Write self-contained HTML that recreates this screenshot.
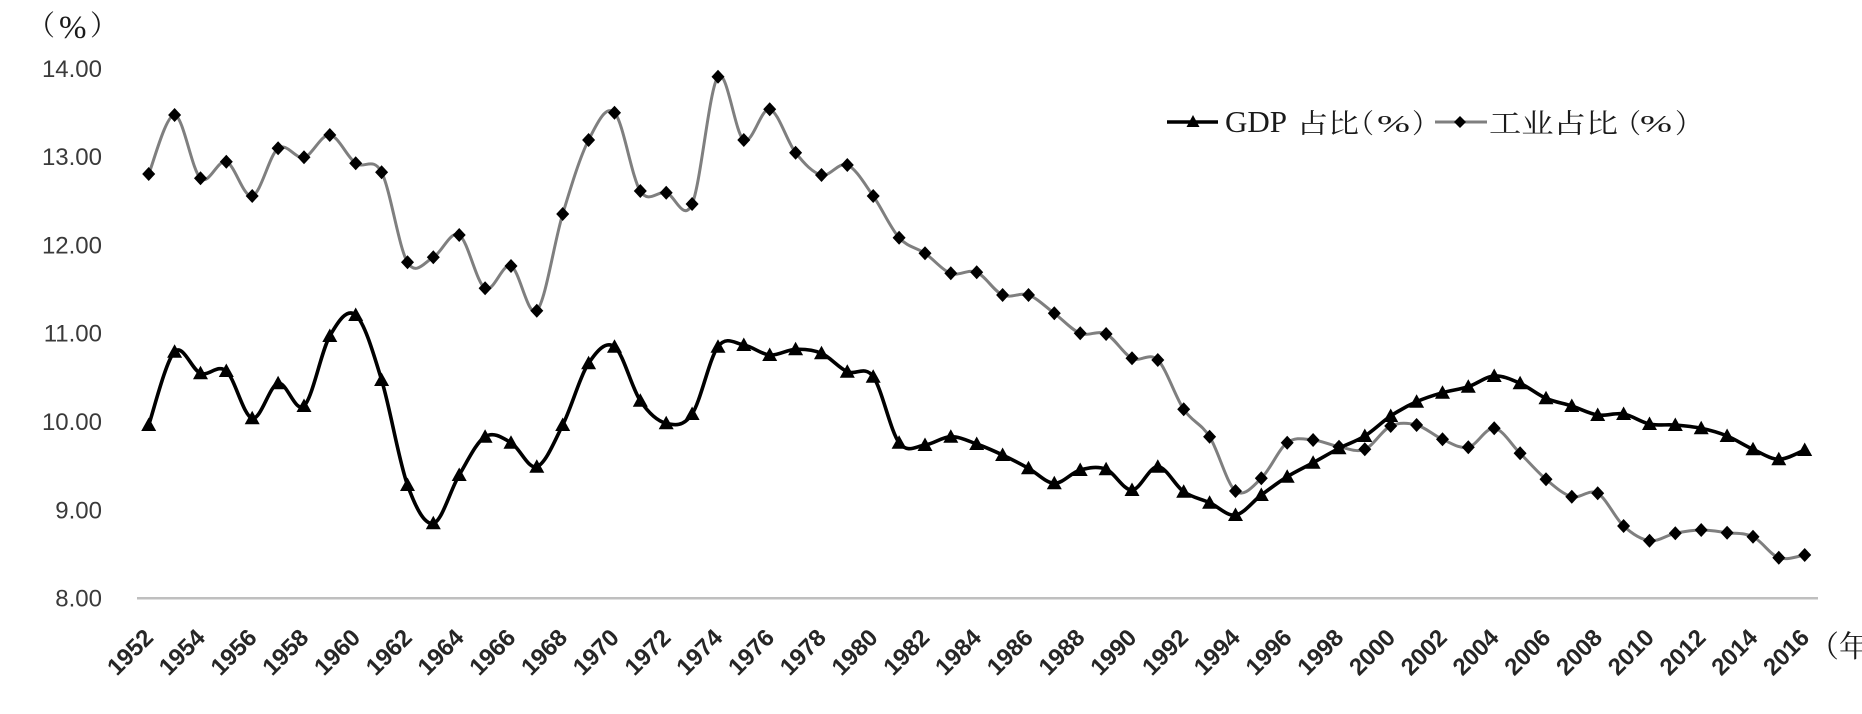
<!DOCTYPE html>
<html>
<head>
<meta charset="utf-8">
<style>
  html, body { margin: 0; padding: 0; background: #ffffff; }
  svg { display: block; }
  .yl { font-family: "Liberation Sans", sans-serif; font-size: 24px; fill: #3a3a3a; text-anchor: end; }
  .xl { font-family: "Liberation Sans", sans-serif; font-size: 24px; font-weight: bold; fill: #262626; text-anchor: end; }
  .cjk { font-family: "Liberation Serif", "Noto Serif CJK SC", serif; fill: #1a1a1a; }
  .lat { font-family: "Liberation Serif", serif; fill: #1a1a1a; }
</style>
</head>
<body>
<svg id="chart" width="1862" height="714" viewBox="0 0 1862 714" xmlns="http://www.w3.org/2000/svg">
  <defs>
    <marker id="tri" markerUnits="userSpaceOnUse" markerWidth="20" markerHeight="20" refX="10" refY="10" orient="0" viewBox="0 0 20 20" overflow="visible">
      <path d="M10,2.5 L17.5,16 L2.5,16 Z" fill="#000"/>
    </marker>
    <marker id="dia" markerUnits="userSpaceOnUse" markerWidth="20" markerHeight="20" refX="10" refY="10" orient="0" viewBox="0 0 20 20" overflow="visible">
      <path d="M10,3 L16.5,10 L10,17 L3.5,10 Z" fill="#000"/>
    </marker>
  </defs>

  <rect x="0" y="0" width="1862" height="714" fill="#ffffff"/>

  <!-- Y axis title -->
  <text class="cjk" x="27" y="35" font-size="28">（</text>
  <text class="lat" x="59" y="38" font-size="33">%</text>
  <text class="cjk" x="90" y="35" font-size="28">）</text>

  <!-- Y tick labels -->
  <text class="yl" x="102" y="76.8">14.00</text>
  <text class="yl" x="102" y="165.1">13.00</text>
  <text class="yl" x="102" y="253.4">12.00</text>
  <text class="yl" x="102" y="341.7">11.00</text>
  <text class="yl" x="102" y="430.0">10.00</text>
  <text class="yl" x="102" y="518.3">9.00</text>
  <text class="yl" x="102" y="606.6">8.00</text>

  <!-- X axis line -->
  <line x1="137" y1="598.3" x2="1818" y2="598.3" stroke="#bfbfbf" stroke-width="2.5"/>

  <!-- X tick labels -->
  <text class="xl" transform="translate(154.7,639) rotate(-45)">1952</text>
  <text class="xl" transform="translate(206.5,639) rotate(-45)">1954</text>
  <text class="xl" transform="translate(258.2,639) rotate(-45)">1956</text>
  <text class="xl" transform="translate(310.0,639) rotate(-45)">1958</text>
  <text class="xl" transform="translate(361.7,639) rotate(-45)">1960</text>
  <text class="xl" transform="translate(413.5,639) rotate(-45)">1962</text>
  <text class="xl" transform="translate(465.2,639) rotate(-45)">1964</text>
  <text class="xl" transform="translate(517.0,639) rotate(-45)">1966</text>
  <text class="xl" transform="translate(568.7,639) rotate(-45)">1968</text>
  <text class="xl" transform="translate(620.5,639) rotate(-45)">1970</text>
  <text class="xl" transform="translate(672.2,639) rotate(-45)">1972</text>
  <text class="xl" transform="translate(724.0,639) rotate(-45)">1974</text>
  <text class="xl" transform="translate(775.7,639) rotate(-45)">1976</text>
  <text class="xl" transform="translate(827.5,639) rotate(-45)">1978</text>
  <text class="xl" transform="translate(879.2,639) rotate(-45)">1980</text>
  <text class="xl" transform="translate(931.0,639) rotate(-45)">1982</text>
  <text class="xl" transform="translate(982.7,639) rotate(-45)">1984</text>
  <text class="xl" transform="translate(1034.5,639) rotate(-45)">1986</text>
  <text class="xl" transform="translate(1086.2,639) rotate(-45)">1988</text>
  <text class="xl" transform="translate(1138.0,639) rotate(-45)">1990</text>
  <text class="xl" transform="translate(1189.7,639) rotate(-45)">1992</text>
  <text class="xl" transform="translate(1241.5,639) rotate(-45)">1994</text>
  <text class="xl" transform="translate(1293.2,639) rotate(-45)">1996</text>
  <text class="xl" transform="translate(1345.0,639) rotate(-45)">1998</text>
  <text class="xl" transform="translate(1396.7,639) rotate(-45)">2000</text>
  <text class="xl" transform="translate(1448.5,639) rotate(-45)">2002</text>
  <text class="xl" transform="translate(1500.2,639) rotate(-45)">2004</text>
  <text class="xl" transform="translate(1552.0,639) rotate(-45)">2006</text>
  <text class="xl" transform="translate(1603.7,639) rotate(-45)">2008</text>
  <text class="xl" transform="translate(1655.5,639) rotate(-45)">2010</text>
  <text class="xl" transform="translate(1707.2,639) rotate(-45)">2012</text>
  <text class="xl" transform="translate(1759.0,639) rotate(-45)">2014</text>
  <text class="xl" transform="translate(1810.7,639) rotate(-45)">2016</text>

  <!-- X axis unit -->
  <text class="cjk" x="1809" y="657" font-size="30">（年）</text>

  <!-- GDP series -->
  <polyline id="gdpLine" fill="none" stroke="#000" stroke-width="3.6" stroke-linejoin="round" stroke-linecap="round"
    points="148.7,425 174.6,351.7 200.5,373.3 226.3,371 252.2,418.3 278.1,383.3 304,406 329.8,336 355.7,315 381.6,380 407.5,485 433.3,523.3 459.2,475 485.1,436.7 511,442.7 536.8,466.7 562.7,425 588.6,363.3 614.5,346.7 640.3,400.7 666.2,423.3 692.1,414 718,346.7 743.8,345 769.7,355 795.6,349.3 821.5,353.3 847.3,371.7 873.2,376.7 899.1,442.7 925,445 950.8,436.7 976.7,444 1002.6,455 1028.5,468.3 1054.3,483.3 1080.2,470 1106.1,469.3 1132,490 1157.8,466.7 1183.7,491.7 1209.6,502.7 1235.5,515 1261.3,495 1287.2,476.7 1313.1,462.7 1339,448.3 1364.8,436 1390.7,416 1416.6,401.7 1442.5,392.7 1468.3,386.7 1494.2,376 1520.1,383.3 1546,398.3 1571.8,406 1597.7,415 1623.6,414 1649.5,424 1675.3,425 1701.2,428.3 1727.1,436 1753,449.3 1778.8,459.3 1804.7,450"/>
  <polyline id="gdpMk" fill="none" stroke="none" marker-start="url(#tri)" marker-mid="url(#tri)" marker-end="url(#tri)"
    points="148.7,425 174.6,351.7 200.5,373.3 226.3,371 252.2,418.3 278.1,383.3 304,406 329.8,336 355.7,315 381.6,380 407.5,485 433.3,523.3 459.2,475 485.1,436.7 511,442.7 536.8,466.7 562.7,425 588.6,363.3 614.5,346.7 640.3,400.7 666.2,423.3 692.1,414 718,346.7 743.8,345 769.7,355 795.6,349.3 821.5,353.3 847.3,371.7 873.2,376.7 899.1,442.7 925,445 950.8,436.7 976.7,444 1002.6,455 1028.5,468.3 1054.3,483.3 1080.2,470 1106.1,469.3 1132,490 1157.8,466.7 1183.7,491.7 1209.6,502.7 1235.5,515 1261.3,495 1287.2,476.7 1313.1,462.7 1339,448.3 1364.8,436 1390.7,416 1416.6,401.7 1442.5,392.7 1468.3,386.7 1494.2,376 1520.1,383.3 1546,398.3 1571.8,406 1597.7,415 1623.6,414 1649.5,424 1675.3,425 1701.2,428.3 1727.1,436 1753,449.3 1778.8,459.3 1804.7,450"/>

  <!-- Industry series -->
  <polyline id="indLine" fill="none" stroke="#7f7f7f" stroke-width="3" stroke-linejoin="round" stroke-linecap="round"
    points="148.7,174 174.6,115 200.5,178.3 226.3,161.7 252.2,196 278.1,148.3 304,157.3 329.8,135 355.7,163.3 381.6,172.3 407.5,262.3 433.3,257.3 459.2,235 485.1,288.3 511,266 536.8,310.7 562.7,214 588.6,140 614.5,112.7 640.3,191 666.2,192.7 692.1,204 718,76.7 743.8,140 769.7,109.3 795.6,152.7 821.5,175 847.3,165 873.2,196 899.1,237.7 925,253.3 950.8,273.3 976.7,272.3 1002.6,295 1028.5,295 1054.3,313.3 1080.2,333.3 1106.1,334 1132,358.3 1157.8,360 1183.7,409.3 1209.6,436.7 1235.5,491 1261.3,478.3 1287.2,442.7 1313.1,440 1339,446.7 1364.8,449.3 1390.7,426 1416.6,425 1442.5,439.3 1468.3,447.3 1494.2,428.3 1520.1,453.3 1546,479.3 1571.8,496.7 1597.7,493.3 1623.6,526 1649.5,540.7 1675.3,533.3 1701.2,530 1727.1,532.7 1753,536.7 1778.8,557.7 1804.7,555"/>
  <polyline id="indMk" fill="none" stroke="none" marker-start="url(#dia)" marker-mid="url(#dia)" marker-end="url(#dia)"
    points="148.7,174 174.6,115 200.5,178.3 226.3,161.7 252.2,196 278.1,148.3 304,157.3 329.8,135 355.7,163.3 381.6,172.3 407.5,262.3 433.3,257.3 459.2,235 485.1,288.3 511,266 536.8,310.7 562.7,214 588.6,140 614.5,112.7 640.3,191 666.2,192.7 692.1,204 718,76.7 743.8,140 769.7,109.3 795.6,152.7 821.5,175 847.3,165 873.2,196 899.1,237.7 925,253.3 950.8,273.3 976.7,272.3 1002.6,295 1028.5,295 1054.3,313.3 1080.2,333.3 1106.1,334 1132,358.3 1157.8,360 1183.7,409.3 1209.6,436.7 1235.5,491 1261.3,478.3 1287.2,442.7 1313.1,440 1339,446.7 1364.8,449.3 1390.7,426 1416.6,425 1442.5,439.3 1468.3,447.3 1494.2,428.3 1520.1,453.3 1546,479.3 1571.8,496.7 1597.7,493.3 1623.6,526 1649.5,540.7 1675.3,533.3 1701.2,530 1727.1,532.7 1753,536.7 1778.8,557.7 1804.7,555"/>

  <!-- Legend -->
  <line x1="1167" y1="122" x2="1218" y2="122" stroke="#000" stroke-width="3.6"/>
  <path d="M1193,115 L1199.5,127 L1186.5,127 Z" fill="#000"/>
  <text class="lat" x="1225" y="132" font-size="31">GDP</text>
  <text class="cjk" x="1297" y="133" font-size="27" textLength="62" lengthAdjust="spacingAndGlyphs">占比</text>
  <text class="cjk" x="1347" y="133" font-size="27">（</text>
  <text class="lat" x="1377" y="132" font-size="24" textLength="33" lengthAdjust="spacingAndGlyphs">%</text>
  <text class="cjk" x="1412" y="133" font-size="27">）</text>

  <line x1="1435" y1="122" x2="1487" y2="122" stroke="#7f7f7f" stroke-width="3"/>
  <path d="M1460,116 L1466,122 L1460,128 L1454,122 Z" fill="#000"/>
  <text class="cjk" x="1489" y="133" font-size="27" textLength="129" lengthAdjust="spacingAndGlyphs">工业占比</text>
  <text class="cjk" x="1614" y="133" font-size="27">（</text>
  <text class="lat" x="1640" y="132" font-size="24" textLength="32" lengthAdjust="spacingAndGlyphs">%</text>
  <text class="cjk" x="1675" y="133" font-size="27">）</text>
</svg>

<script>
(function(){
  function smooth(id){
    var pl = document.getElementById(id);
    if(!pl) return;
    var raw = pl.getAttribute('points').trim().split(/\s+/).map(function(s){
      var a = s.split(','); return [parseFloat(a[0]), parseFloat(a[1])];
    });
    var d = 'M' + raw[0][0] + ',' + raw[0][1];
    for (var i = 0; i < raw.length - 1; i++){
      var p0 = raw[i-1] || raw[i], p1 = raw[i], p2 = raw[i+1], p3 = raw[i+2] || raw[i+1];
      var c1x = p1[0] + (p2[0] - p0[0]) / 6, c1y = p1[1] + (p2[1] - p0[1]) / 6;
      var c2x = p2[0] - (p3[0] - p1[0]) / 6, c2y = p2[1] - (p3[1] - p1[1]) / 6;
      d += ' C' + c1x.toFixed(2) + ',' + c1y.toFixed(2) + ' ' + c2x.toFixed(2) + ',' + c2y.toFixed(2) + ' ' + p2[0] + ',' + p2[1];
    }
    var path = document.createElementNS('http://www.w3.org/2000/svg', 'path');
    ['fill','stroke','stroke-width','stroke-linejoin','stroke-linecap'].forEach(function(a){
      if (pl.getAttribute(a) !== null) path.setAttribute(a, pl.getAttribute(a));
    });
    path.setAttribute('d', d);
    pl.parentNode.replaceChild(path, pl);
  }
  smooth('gdpLine');
  smooth('indLine');
})();
</script>
</body>
</html>
